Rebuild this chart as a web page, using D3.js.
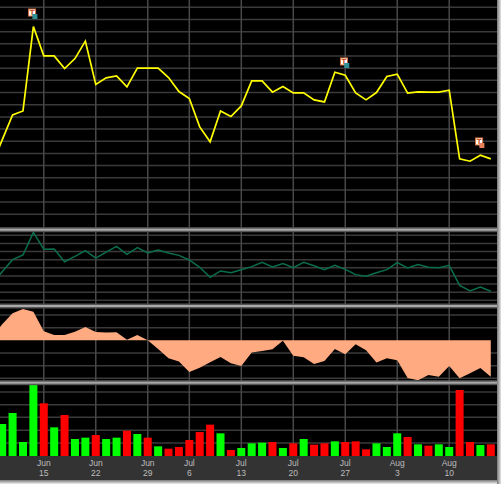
<!DOCTYPE html>
<html>
<head>
<meta charset="utf-8">
<script src="https://cdn.jsdelivr.net/npm/d3@7/dist/d3.min.js"></script>
<style>
html, body { margin: 0; padding: 0; background: #fff; overflow: hidden; }
svg { display: block; }
</style>
</head>
<body>
<div id="chart"></div>
<script>
// one entry per trading day, Jun 8 sits just off the left edge
const days = ["Jun 8","Jun 9","Jun 10","Jun 11","Jun 12","Jun 15","Jun 16","Jun 17","Jun 18","Jun 19","Jun 22","Jun 23","Jun 24","Jun 25","Jun 26","Jun 29","Jun 30","Jul 1","Jul 2","Jul 6","Jul 7","Jul 8","Jul 9","Jul 10","Jul 13","Jul 14","Jul 15","Jul 16","Jul 17","Jul 20","Jul 21","Jul 22","Jul 23","Jul 24","Jul 27","Jul 28","Jul 29","Jul 30","Jul 31","Aug 3","Aug 4","Aug 5","Aug 6","Aug 7","Aug 10","Aug 11","Aug 12","Aug 13","Aug 14"];

const priceValues = [4.05,6.11,8.16,8.49,15.42,13.01,13.01,11.97,12.79,14.22,10.66,11.21,11.37,10.47,12,12,12,11.23,10.08,9.51,7.18,5.95,8.49,8.03,8.9,10.96,10.96,10.03,10.49,9.97,9.97,9.4,9.23,11.67,11.42,9.97,9.4,10,11.32,11.51,9.95,10.05,10.03,10.03,10.19,4.55,4.36,4.85,4.55];
const avgValues = [1.89,3.52,5,5.57,8.36,6.27,6.31,4.75,5.41,6.11,5.2,5.94,6.64,5.66,6.48,5.82,6.19,5.82,5.53,4.96,4.06,2.83,3.61,3.4,3.77,4.14,4.67,4.1,4.51,4.02,4.67,4.26,3.77,4.3,3.81,3.16,2.95,3.4,3.77,4.63,3.98,4.39,4.06,4.02,4.3,1.84,1.15,1.64,1.11];
const oscValues = [0.29,1.26,2.13,2.47,2.26,0.71,0.42,0.42,0.68,1.05,0.66,0.61,0.63,0.05,0.42,0,-0.68,-1.42,-1.68,-2.5,-2.16,-1.74,-1.32,-1.82,-2.03,-0.97,-0.84,-0.71,-0.03,-1.21,-1.34,-1.87,-1.63,-0.68,-1.11,-0.32,-0.79,-1.76,-1.42,-1.58,-2.97,-3.16,-2.74,-2.87,-2.03,-3,-2.61,-2.18,-2.87];
const volValues = [60,96,129,42,213,158,86,123,51,55,63,51,55,76,66,55,29,22,27,48,72,94,68,18,24,38,40,42,24,38,51,34,38,44,42,44,20,38,27,68,57,35,31,35,27,198,42,33,35];
const volUp = [1,1,1,1,1,0,1,0,1,1,0,1,1,0,1,0,1,0,0,0,0,0,1,0,1,1,1,0,1,0,1,0,0,1,0,0,0,1,1,1,0,1,0,1,1,0,0,1,0];

const tickDays = ["Jun 15","Jun 22","Jun 29","Jul 6","Jul 13","Jul 20","Jul 27","Aug 3","Aug 10"];
const priceTicks = d3.range(0, 18);
const avgTicks = d3.range(0, 9);
const oscTicks = [-3, -2, -1, 1, 2];
const volTicks = [39, 77, 116, 154, 192];
const noteDays = ["Jun 12", "Jul 27", "Aug 13"];
const noteLevels = [16.57, 12.55, 5.98];
const noteColors = ["#2f8f96", "#2f8f96", "#e8805a"];
const separators = [229.7, 306, 382.7];

const W = 501, H = 484;
const plotRight = 497;

const x = d3.scalePoint().domain(days).range([-8.2, 490.8]);

const panes = {
    price: d3.scaleLinear().domain([0, 17]).range([214.3, 7.3]),
    avg: d3.scaleLinear().domain([0, 8]).range([300.3, 235.3]),
    osc: d3.scaleLinear().domain([-3, 2]).range([378.3, 315]),
    vol: d3.scaleLinear().domain([0, 213]).range([456, 385])
};

const svg = d3.select("#chart").append("svg")
    .attr("width", W)
    .attr("height", H);

let defs = svg.append("defs");
defs.append("clipPath").attr("id", "plot")
    .append("rect").attr("x", 0).attr("y", 0).attr("width", plotRight).attr("height", 456);

let sideFade = defs.append("linearGradient").attr("id", "sideFade");
sideFade.append("stop").attr("offset", 0).attr("stop-color", "#777");
sideFade.append("stop").attr("offset", 1).attr("stop-color", "#e4e4e4");
let bottomFade = defs.append("linearGradient").attr("id", "bottomFade")
    .attr("x1", 0).attr("x2", 0).attr("y1", 0).attr("y2", 1);
bottomFade.append("stop").attr("offset", 0).attr("stop-color", "#777");
bottomFade.append("stop").attr("offset", 1).attr("stop-color", "#efefef");

svg.append("rect").attr("width", W).attr("height", H).attr("fill", "#fff");
svg.append("rect").attr("x", 0).attr("y", 480).attr("width", plotRight).attr("height", 4).attr("fill", "url(#bottomFade)");
svg.append("rect").attr("x", plotRight).attr("y", 0).attr("width", 4).attr("height", 484).attr("fill", "url(#sideFade)");
svg.append("rect").attr("width", plotRight).attr("height", 456).attr("fill", "#000");
svg.append("rect").attr("y", 456).attr("width", plotRight).attr("height", 24).attr("fill", "#333");

const plot = svg.append("g").attr("clip-path", "url(#plot)");

function hGrid(scale, ticks) {
    plot.append("g").selectAll("line")
        .data(ticks)
        .join("line")
        .attr("x1", 0)
        .attr("x2", plotRight)
        .attr("y1", d => scale(d))
        .attr("y2", d => scale(d))
        .attr("stroke", "#3a3a3a")
        .attr("stroke-width", 1.5);
}

hGrid(panes.price, priceTicks);
hGrid(panes.avg, avgTicks);
hGrid(panes.osc, oscTicks);
hGrid(panes.vol, volTicks);

plot.append("g").selectAll("line")
    .data(tickDays)
    .join("line")
    .attr("x1", d => x(d))
    .attr("x2", d => x(d))
    .attr("y1", 0)
    .attr("y2", 456)
    .attr("stroke", "#484848")
    .attr("stroke-width", 1.5);

// price
plot.append("path")
    .attr("d", d3.line().x((d, i) => x(days[i])).y(d => panes.price(d))(priceValues))
    .attr("fill", "none")
    .attr("stroke", "#ffff00")
    .attr("stroke-width", 1.7);

// average
plot.append("path")
    .attr("d", d3.line().x((d, i) => x(days[i])).y(d => panes.avg(d))(avgValues))
    .attr("fill", "none")
    .attr("stroke", "#0a6e4e")
    .attr("stroke-width", 1.5);

// oscillator
plot.append("path")
    .attr("d", d3.area().x((d, i) => x(days[i])).y0(panes.osc(0)).y1(d => panes.osc(d))(oscValues))
    .attr("fill", "#ffaa80");

// volume
plot.append("g").selectAll("rect")
    .data(volValues)
    .join("rect")
    .attr("x", (d, i) => x(days[i]) - 4)
    .attr("y", d => panes.vol(d))
    .attr("width", 8)
    .attr("height", d => panes.vol(0) - panes.vol(d))
    .attr("fill", (d, i) => volUp[i] ? "#00ff00" : "#ff0000");

// pane separators
plot.append("g").selectAll("rect")
    .data(separators)
    .join("rect")
    .attr("x", 0)
    .attr("y", d => d - 2.5)
    .attr("width", plotRight)
    .attr("height", 5)
    .attr("fill", "#555");
plot.append("g").selectAll("rect")
    .data(separators)
    .join("rect")
    .attr("x", 0)
    .attr("y", d => d - 1)
    .attr("width", plotRight)
    .attr("height", 2)
    .attr("fill", "#a8a8a8");

// note markers
let notes = plot.append("g").selectAll("g")
    .data(noteDays)
    .join("g")
    .attr("transform", (d, i) => `translate(${x(d)},${panes.price(noteLevels[i])})`);
notes.append("rect")
    .attr("x", -4.8).attr("y", -3.5).attr("width", 7).attr("height", 7)
    .attr("fill", "#fff").attr("stroke", "#d9703c").attr("stroke-width", 1);
notes.append("text")
    .attr("x", -1.3).attr("y", 2.6)
    .attr("text-anchor", "middle")
    .attr("font-family", "DejaVu Sans")
    .attr("font-size", 7)
    .attr("font-weight", "bold")
    .attr("fill", "#c8562a")
    .text("T");
notes.append("rect")
    .attr("x", -1).attr("y", 1.5).attr("width", 5).attr("height", 5)
    .attr("fill", (d, i) => noteColors[i]);

// date labels
let labels = svg.append("g").selectAll("g")
    .data(tickDays)
    .join("g")
    .attr("transform", d => `translate(${x(d)},0)`)
    .attr("font-family", "Liberation Sans")
    .attr("font-size", 8.5)
    .attr("fill", "#bdbdbd")
    .attr("text-anchor", "middle");
labels.append("text").attr("y", 466).text(d => d.split(" ")[0]);
labels.append("text").attr("y", 476).text(d => d.split(" ")[1]);
</script>
</body>
</html>
